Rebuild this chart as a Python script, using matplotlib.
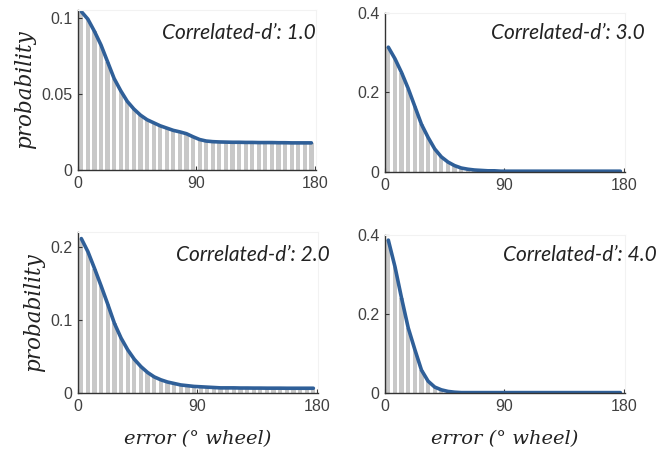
import matplotlib.pyplot as plt
import numpy as np

# bin centres of the error histogram (5 degree bins)
error_bins = np.arange(2.5, 180, 5)

prob_d1 = [0.104, 0.099, 0.091, 0.082, 0.071, 0.060, 0.052, 0.045, 0.040, 0.036,
           0.033, 0.031, 0.029, 0.0275, 0.026, 0.025, 0.0238, 0.0218, 0.0200, 0.0190,
           0.0186, 0.0184, 0.0183, 0.0182, 0.0182, 0.0181, 0.0181, 0.018, 0.018, 0.018,
           0.0179, 0.0179, 0.0178, 0.0178, 0.0178, 0.0178]
prob_d2 = [0.211, 0.193, 0.170, 0.146, 0.121, 0.095, 0.075, 0.059, 0.046, 0.036,
           0.028, 0.022, 0.018, 0.015, 0.013, 0.011, 0.010, 0.009, 0.0085, 0.008,
           0.0075, 0.007, 0.007, 0.007, 0.0068, 0.0068, 0.0067, 0.0067, 0.0066, 0.0066,
           0.0066, 0.0065, 0.0065, 0.0065, 0.0065, 0.0065]
prob_d3 = [0.314, 0.285, 0.250, 0.210, 0.165, 0.120, 0.087, 0.058, 0.038, 0.025,
           0.016, 0.010, 0.007, 0.005, 0.004, 0.003, 0.003, 0.002, 0.002, 0.002,
           0.002, 0.002, 0.002, 0.002, 0.002, 0.002, 0.002, 0.002, 0.002, 0.002,
           0.002, 0.002, 0.002, 0.002, 0.002, 0.002]
prob_d4 = [0.387, 0.320, 0.240, 0.165, 0.110, 0.058, 0.030, 0.015, 0.008, 0.004,
           0.002, 0.001, 0.001, 0.001, 0.001, 0.001, 0.001, 0.001, 0.001, 0.001,
           0.001, 0.001, 0.001, 0.001, 0.001, 0.001, 0.001, 0.001, 0.001, 0.001,
           0.001, 0.001, 0.001, 0.001, 0.001, 0.001]

titles = ["Correlated-d\u2019: 1.0", "Correlated-d\u2019: 3.0",
          "Correlated-d\u2019: 2.0", "Correlated-d\u2019: 4.0"]
series = [prob_d1, prob_d3, prob_d2, prob_d4]
ylims = [0.105, 0.4, 0.22, 0.4]
yticks = [[0, 0.05, 0.1], [0, 0.2, 0.4], [0, 0.1, 0.2], [0, 0.2, 0.4]]
yticklabels = [["0", "0.05", "0.1"], ["0", "0.2", "0.4"],
               ["0", "0.1", "0.2"], ["0", "0.2", "0.4"]]

plt.rcParams['font.family'] = 'Liberation Sans'

W, H = 660, 459
# axes boxes in pixels: left, top, right, bottom
boxes = [(78, 10, 316, 170), (385, 13, 625, 172),
         (78, 232, 318, 393), (385, 235, 625, 393)]
title_pos = [(316, 33), (645, 33), (330, 255), (657, 255)]

fig = plt.figure(figsize=(6.6, 4.59), dpi=100)

for i in range(4):
    l, t, r, b = boxes[i]
    ax = fig.add_axes([l / W, 1 - b / H, (r - l) / W, (b - t) / H])
    ax.bar(error_bins, series[i], width=3.2, color='#c8c8c8', zorder=1)
    ax.plot(error_bins, series[i], color='#2f5f98', lw=2.6, zorder=2,
            solid_capstyle='round')
    ax.set_xlim(0, 181)
    ax.set_ylim(0, ylims[i])
    ax.set_xticks([0, 90, 180])
    ax.set_yticks(yticks[i])
    ax.set_yticklabels(yticklabels[i])
    ax.tick_params(direction='in', length=3, labelsize=11.5, colors='#333333',
                   labelcolor='#404040', pad=4)
    for s in ['top', 'right']:
        ax.spines[s].set_color('#f2f2f2')
    for s in ['left', 'bottom']:
        ax.spines[s].set_color('#333333')
        ax.spines[s].set_linewidth(1.0)
    tx, ty = title_pos[i]
    fig.text(tx / W, 1 - ty / H, titles[i], ha='right', va='center',
             fontsize=15, style='italic', family='Lato', color='#222222')
    if i % 2 == 0:
        ax.set_ylabel('probability', fontsize=15.5, style='italic',
                      family='DejaVu Serif', color='#222222', labelpad=4)
    if i >= 2:
        ax.set_xlabel('error (\u00b0 wheel)', fontsize=14, style='italic',
                      family='DejaVu Serif', color='#222222', labelpad=12)

fig.savefig('out.png', dpi=100)
